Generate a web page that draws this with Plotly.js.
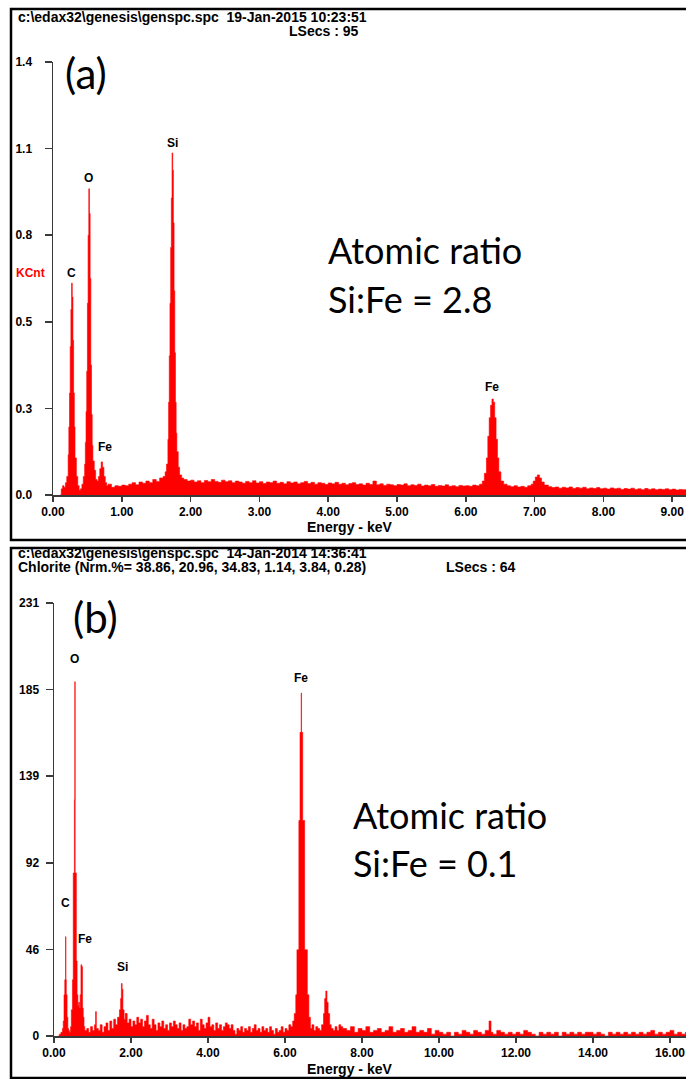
<!DOCTYPE html>
<html>
<head>
<meta charset="utf-8">
<script src="https://cdn.plot.ly/plotly-3.0.1.min.js"></script>
<style>html,body{margin:0;padding:0;background:#fff;}#chart{width:686px;height:1079px;}</style>
</head>
<body>
<div id="chart"></div>
<script>
// ---------- Panel (a) spectrum: energy (keV) and intensity (KCnt) ----------
const energyA = [0.10,0.12,0.14,0.16,0.18,0.20,0.22,0.23,0.24,0.25,0.26,0.27,0.28,0.29,0.30,0.31,0.32,0.34,0.36,0.38,0.40,0.42,0.44,0.46,0.47,0.48,0.49,0.50,0.51,0.52,0.53,0.54,0.55,0.56,0.57,0.58,0.60,0.62,0.64,0.66,0.68,0.70,0.72,0.74,0.76,0.78,0.80,0.85,0.90,0.95,1.00,1.05,1.10,1.15,1.20,1.25,1.30,1.35,1.40,1.45,1.50,1.55,1.60,1.63,1.65,1.67,1.68,1.69,1.70,1.71,1.72,1.73,1.74,1.75,1.76,1.77,1.78,1.79,1.80,1.82,1.84,1.87,1.90,1.95,2.00,2.05,2.10,2.15,2.20,2.25,2.30,2.35,2.40,2.45,2.50,2.55,2.60,2.65,2.70,2.75,2.80,2.85,2.90,2.95,3.00,3.05,3.10,3.15,3.20,3.25,3.30,3.35,3.40,3.45,3.50,3.55,3.60,3.65,3.70,3.75,3.80,3.85,3.90,3.95,4.00,4.05,4.10,4.15,4.20,4.25,4.30,4.35,4.40,4.45,4.50,4.55,4.60,4.65,4.70,4.75,4.80,4.85,4.90,4.95,5.00,5.05,5.10,5.15,5.20,5.25,5.30,5.35,5.40,5.45,5.50,5.55,5.60,5.65,5.70,5.75,5.80,5.85,5.90,5.95,6.00,6.05,6.10,6.15,6.20,6.24,6.27,6.30,6.32,6.34,6.36,6.38,6.40,6.42,6.44,6.46,6.48,6.51,6.55,6.60,6.65,6.70,6.75,6.80,6.85,6.90,6.95,6.98,7.01,7.04,7.07,7.10,7.14,7.20,7.25,7.30,7.35,7.40,7.45,7.50,7.55,7.60,7.65,7.70,7.75,7.80,7.85,7.90,7.95,8.00,8.05,8.10,8.15,8.20,8.25,8.30,8.35,8.40,8.45,8.50,8.55,8.60,8.65,8.70,8.75,8.80,8.85,8.90,8.95,9.00,9.05,9.10,9.15,9.20,9.25];
const countsA = [0.0,0.02,0.03,0.025,0.04,0.06,0.13,0.22,0.33,0.48,0.60,0.685,0.64,0.50,0.33,0.22,0.12,0.06,0.03,0.015,0.02,0.035,0.06,0.10,0.17,0.27,0.40,0.62,0.84,0.99,0.91,0.70,0.42,0.26,0.16,0.11,0.08,0.05,0.045,0.06,0.085,0.107,0.09,0.06,0.04,0.03,0.035,0.025,0.03,0.028,0.032,0.03,0.035,0.04,0.033,0.042,0.038,0.045,0.04,0.05,0.044,0.055,0.06,0.075,0.10,0.18,0.30,0.45,0.62,0.80,0.96,1.106,1.05,0.88,0.66,0.46,0.30,0.20,0.14,0.09,0.065,0.055,0.05,0.045,0.048,0.042,0.046,0.04,0.047,0.043,0.05,0.044,0.041,0.048,0.043,0.046,0.04,0.045,0.042,0.038,0.044,0.04,0.046,0.039,0.043,0.037,0.042,0.04,0.045,0.038,0.041,0.036,0.043,0.039,0.042,0.036,0.04,0.044,0.037,0.041,0.035,0.04,0.038,0.034,0.039,0.036,0.041,0.035,0.038,0.033,0.037,0.04,0.034,0.036,0.032,0.038,0.034,0.045,0.033,0.036,0.031,0.035,0.033,0.03,0.034,0.032,0.036,0.03,0.033,0.031,0.035,0.029,0.032,0.03,0.034,0.028,0.031,0.029,0.033,0.028,0.03,0.027,0.031,0.029,0.03,0.028,0.032,0.03,0.035,0.045,0.07,0.12,0.19,0.25,0.29,0.31,0.30,0.25,0.18,0.12,0.075,0.045,0.035,0.03,0.027,0.03,0.026,0.028,0.025,0.03,0.035,0.045,0.058,0.065,0.055,0.042,0.032,0.027,0.024,0.026,0.022,0.025,0.023,0.026,0.021,0.024,0.022,0.025,0.02,0.023,0.021,0.024,0.02,0.022,0.019,0.023,0.02,0.022,0.018,0.021,0.019,0.022,0.018,0.02,0.017,0.021,0.018,0.02,0.017,0.019,0.018,0.02,0.017,0.019,0.016,0.018,0.017,0.018,0.018];

// ---------- Panel (b) spectrum: energy (keV) and counts ----------
const energyB = [0.10,0.14,0.18,0.22,0.24,0.26,0.28,0.30,0.31,0.32,0.34,0.36,0.38,0.40,0.43,0.45,0.48,0.50,0.53,0.54,0.55,0.58,0.60,0.62,0.64,0.66,0.68,0.70,0.72,0.74,0.76,0.78,0.80,0.85,0.90,0.95,1.00,1.05,1.08,1.10,1.15,1.20,1.25,1.30,1.35,1.40,1.45,1.50,1.55,1.60,1.65,1.70,1.73,1.75,1.77,1.79,1.82,1.85,1.90,1.95,2.00,2.05,2.10,2.15,2.20,2.25,2.30,2.35,2.40,2.45,2.50,2.55,2.60,2.65,2.70,2.75,2.80,2.85,2.90,2.95,3.00,3.05,3.10,3.15,3.20,3.25,3.30,3.35,3.40,3.45,3.50,3.55,3.60,3.65,3.70,3.75,3.80,3.85,3.90,3.95,4.00,4.05,4.10,4.15,4.20,4.25,4.30,4.35,4.40,4.45,4.50,4.55,4.60,4.65,4.70,4.75,4.80,4.85,4.90,4.95,5.00,5.05,5.10,5.15,5.20,5.25,5.30,5.35,5.40,5.45,5.50,5.55,5.60,5.65,5.70,5.75,5.80,5.85,5.90,5.95,6.00,6.05,6.10,6.15,6.20,6.24,6.28,6.31,6.36,6.39,6.42,6.43,6.46,6.51,6.58,6.62,6.66,6.70,6.75,6.80,6.85,6.90,6.95,7.00,7.03,7.06,7.09,7.12,7.16,7.20,7.25,7.30,7.35,7.40,7.45,7.50,7.60,7.70,7.80,7.90,8.00,8.10,8.20,8.30,8.40,8.50,8.60,8.70,8.80,8.90,9.00,9.10,9.20,9.30,9.40,9.50,9.60,9.70,9.80,9.90,10.00,10.10,10.20,10.30,10.40,10.50,10.60,10.70,10.80,10.90,11.00,11.10,11.20,11.30,11.35,11.40,11.50,11.60,11.70,11.80,11.90,12.00,12.10,12.20,12.30,12.40,12.50,12.60,12.70,12.80,12.90,13.00,13.10,13.20,13.30,13.40,13.50,13.60,13.70,13.80,13.90,14.00,14.10,14.20,14.30,14.40,14.50,14.60,14.70,14.80,14.90,15.00,15.10,15.20,15.30,15.40,15.50,15.60,15.70,15.80,15.90,16.00,16.10,16.20,16.30,16.40,16.50];
const countsB = [0,1,2,4,8,22,30,53,30,22,10,4,3,2,5,14,30,87,126,189,87,40,22,16,18,15,22,38,37,15,10,5,3,4,2,5,3,6,13,4,3,6,2,5,7,3,8,4,9,6,10,14,20,28,25,14,9,12,7,9,5,8,6,10,7,9,5,8,11,6,4,9,6,3,7,5,8,4,6,3,7,5,8,6,4,7,3,6,4,5,9,6,8,5,7,3,9,6,4,7,10,5,6,3,7,4,6,3,5,7,6,4,6,3,1,4,3,5,2,4,3,5,2,4,6,3,4,2,5,3,4,2,5,3,1,4,2,3,5,2,4,3,6,5,8,12,22,46,115,162,183,162,115,46,22,10,4,6,3,5,4,3,6,12,20,24,18,12,6,4,3,5,3,6,5,4,3,5,2,4,3,5,2,3,4,2,3,5,2,3,4,2,3,5,2,3,2,4,1,3,2,1,2,0,2,1,3,2,1,3,2,1,3,8,2,1,3,2,1,2,1,2,1,3,2,1,0,2,1,2,1,2,0,2,1,2,1,2,1,2,2,1,2,1,0,2,1,2,1,2,1,2,1,2,1,2,3,1,2,1,2,3,1,2,1,2,2];

// ---------- Axis tick labels ----------
const yTickValsA = [0, 0.28, 0.56, 0.84, 1.12, 1.4];
const yTickTextA = ['0.0', '0.3', '0.5', '0.8', '1.1', '1.4'];
const yTickValsB = [0, 46.2, 92.4, 138.6, 184.8, 231];
const yTickTextB = ['0', '46', '92', '139', '185', '231'];

// ---------- Texts ----------
const headerA1 = 'c:\\edax32\\genesis\\genspc.spc\u00a0 19-Jan-2015 10:23:51';
const headerA2 = 'LSecs : 95';
const headerB1 = 'c:\\edax32\\genesis\\genspc.spc\u00a0 14-Jan-2014 14:36:41';
const headerB2 = 'Chlorite (Nrm.%= 38.86, 20.96, 34.83, 1.14, 3.84, 0.28)';
const headerB3 = 'LSecs : 64';
const ratioA = ['Atomic ratio', 'Si:Fe = 2.8'];
const ratioB = ['Atomic ratio', 'Si:Fe = 0.1'];

const W = 686, H = 1079;
const px = v => v / W;
const py = v => 1 - v / H;

const NARROW = 'Liberation Sans Narrow, Arial Narrow, Liberation Sans, Arial, sans-serif';
const SANS = 'Liberation Sans, Arial, sans-serif';
const BIG = 'Lato, Open Sans, sans-serif';
const AX = '#3a3a3a';
const RED = '#ff0000';

function paperText(text, x, y, opts) {
  return Object.assign({
    text: text, xref: 'paper', yref: 'paper', x: px(x), y: py(y),
    xanchor: 'left', yanchor: 'middle', showarrow: false,
    font: {family: NARROW, size: 14, color: '#000', weight: 'bold'}
  }, opts || {});
}
function peak(text, xr, yr, x, y) {
  return {text: text, xref: xr, yref: yr, x: x, y: y, xanchor: 'center', yanchor: 'middle',
    showarrow: false, font: {family: SANS, size: 12, color: '#000', weight: 'bold'}};
}

const traces = [
  {type: 'scatter', mode: 'lines', x: energyA, y: countsA, xaxis: 'x', yaxis: 'y',
   line: {color: RED, width: 0.6, shape: 'hv'}, fill: 'tozeroy', fillcolor: RED, hoverinfo: 'skip'},
  {type: 'scatter', mode: 'lines', x: energyB, y: countsB, xaxis: 'x2', yaxis: 'y2',
   line: {color: RED, width: 0.6, shape: 'hv'}, fill: 'tozeroy', fillcolor: RED, hoverinfo: 'skip'}
];

const tickFont = {family: SANS, size: 12, color: '#000', weight: 'bold'};
function xAxis(domain, range, dtick, anchor) {
  return {domain: domain, range: range, anchor: anchor, dtick: dtick, tick0: 0, tickformat: '.2f',
    showline: true, linecolor: AX, linewidth: 1.5, ticks: 'outside', ticklen: 5, tickwidth: 1.5,
    tickcolor: AX, showgrid: false, zeroline: false, tickfont: tickFont, fixedrange: true};
}
function yAxis(domain, range, vals, text, anchor, standoff) {
  return {domain: domain, range: range, anchor: anchor, tickmode: 'array', tickvals: vals, ticktext: text,
    showline: true, linecolor: AX, linewidth: 1.5, ticks: 'outside', ticklen: 7, tickwidth: 1.5,
    tickcolor: AX, showgrid: false, zeroline: false, tickfont: tickFont, ticklabelstandoff: standoff,
    fixedrange: true};
}

const layout = {
  width: W, height: H, margin: {l: 0, r: 0, t: 0, b: 0},
  paper_bgcolor: '#fff', plot_bgcolor: 'rgba(0,0,0,0)', showlegend: false,
  xaxis: xAxis([px(53), 1], [0, (686 - 53) / 68.8], 1, 'y'),
  yaxis: yAxis([py(495), py(62)], [0, 1.4], yTickValsA, yTickTextA, 'x', 10),
  xaxis2: xAxis([px(54), 1], [0, (686 - 54) / 38.5], 2, 'y2'),
  yaxis2: yAxis([py(1036), py(603)], [0, 231], yTickValsB, yTickTextB, 'x2', 4),
  shapes: [
    {type: 'rect', xref: 'paper', yref: 'paper', x0: px(11), x1: px(700), y0: py(540), y1: py(9),
     line: {color: '#000', width: 2.5}},
    {type: 'rect', xref: 'paper', yref: 'paper', x0: px(11), x1: px(700), y0: py(1078), y1: py(548),
     line: {color: '#000', width: 2.5}}
  ],
  annotations: [
    paperText(headerA1, 16, 17),
    paperText(headerA2, 287, 31),
    paperText(headerB1, 16, 553),
    paperText(headerB2, 16, 567),
    paperText(headerB3, 444, 567),
    paperText('KCnt', 14, 273, {font: {family: SANS, size: 12, color: RED, weight: 'bold'}}),
    paperText('Energy - keV', 349, 527, {xanchor: 'center', font: {family: SANS, size: 14, color: '#000', weight: 'bold'}}),
    paperText('Energy - keV', 349, 1069, {xanchor: 'center', font: {family: SANS, size: 14, color: '#000', weight: 'bold'}}),
    paperText('(a)', 86, 73, {xanchor: 'center', font: {family: BIG, size: 42, color: '#000'}}),
    paperText('(b)', 95, 617, {xanchor: 'center', font: {family: BIG, size: 42, color: '#000'}}),
    paperText(ratioA[0], 326, 250, {font: {family: BIG, size: 36, color: '#000'}}),
    paperText(ratioA[1], 326, 299, {font: {family: BIG, size: 36, color: '#000'}}),
    paperText(ratioB[0], 351, 815, {font: {family: BIG, size: 36, color: '#000'}}),
    paperText(ratioB[1], 351, 863, {font: {family: BIG, size: 36, color: '#000'}}),
    peak('Si', 'x', 'y', 1.73, 1.138),
    peak('O', 'x', 'y', 0.52, 1.025),
    peak('C', 'x', 'y', 0.27, 0.718),
    peak('Fe', 'x', 'y', 0.76, 0.155),
    peak('Fe', 'x', 'y', 6.38, 0.35),
    peak('O', 'x2', 'y2', 0.54, 201),
    peak('Fe', 'x2', 'y2', 6.42, 191),
    peak('C', 'x2', 'y2', 0.31, 71),
    peak('Fe', 'x2', 'y2', 0.80, 52),
    peak('Si', 'x2', 'y2', 1.79, 37)
  ]
};

Plotly.newPlot('chart', traces, layout, {displayModeBar: false, staticPlot: true});
</script>
</body>
</html>
